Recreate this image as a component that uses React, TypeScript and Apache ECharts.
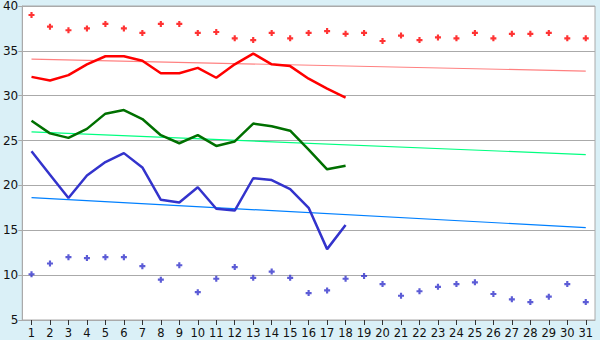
import React, { useEffect, useRef } from "react";
import * as echarts from "echarts";

const days = Array.from({ length: 31 }, (_, i) => String(i + 1));

const maxRecord = [39.0, 37.7, 37.3, 37.5, 38.0, 37.5, 37.0, 38.0, 38.0, 37.0, 37.1, 36.4, 36.2, 37.0, 36.4, 37.0, 37.2, 36.9, 37.0, 36.1, 36.7, 36.2, 36.5, 36.4, 37.0, 36.4, 36.9, 36.9, 37.0, 36.4, 36.4];
const minRecord = [10.1, 11.3, 12.0, 11.9, 12.0, 12.0, 11.0, 9.5, 11.1, 8.1, 9.6, 10.9, 9.7, 10.4, 9.7, 8.0, 8.3, 9.6, 9.9, 9.0, 7.7, 8.2, 8.7, 9.0, 9.2, 7.9, 7.3, 7.0, 7.6, 9.0, 7.0];
const maxTemp = [32.1, 31.7, 32.3, 33.5, 34.4, 34.4, 33.9, 32.5, 32.5, 33.1, 32.0, 33.5, 34.7, 33.5, 33.3, 31.9, 30.8, 29.8];
const meanTemp = [27.2, 25.8, 25.3, 26.3, 28.0, 28.4, 27.4, 25.6, 24.7, 25.6, 24.4, 24.9, 26.9, 26.6, 26.1, 24.0, 21.8, 22.2];
const minTemp = [23.8, 21.2, 18.6, 21.1, 22.6, 23.6, 22.0, 18.4, 18.1, 19.8, 17.4, 17.2, 20.8, 20.6, 19.6, 17.5, 12.9, 15.6];
const maxTrendEnds = [34.07, 32.74];
const meanTrendEnds = [25.96, 23.44];
const minTrendEnds = [18.63, 15.3];
const yTicks = { min: 5, max: 40, interval: 5 };

function trend(ends: number[]) {
  return days.map((_, i) => (i === 0 ? ends[0] : i === days.length - 1 ? ends[1] : null));
}

const plus = "path://M1.6,0H3.4V1.6H5V3.4H3.4V5H1.6V3.4H0V1.6H1.6Z";

export default function App() {
  const ref = useRef<HTMLDivElement>(null);
  useEffect(() => {
    if (!ref.current) return;
    const chart = echarts.init(ref.current, undefined, { renderer: "svg" });
    const font = "DejaVu Sans";
    chart.setOption({
      animation: false,
      backgroundColor: "#DAF0F7",
      grid: {
        left: 20,
        right: 5,
        top: 5,
        bottom: 20,
        show: true,
        backgroundColor: "#FFFFFF",
        borderColor: "#AAAAAA",
        borderWidth: 1,
      },
      xAxis: {
        type: "category",
        data: days,
        boundaryGap: true,
        axisLine: { show: true, lineStyle: { color: "#AAAAAA" } },
        axisTick: { show: true, alignWithLabel: true, length: 5, lineStyle: { color: "#333333" } },
        axisLabel: { color: "#111111", fontFamily: font, fontSize: 11.5, margin: 7, interval: 0 },
        splitLine: { show: false },
      },
      yAxis: {
        type: "value",
        min: yTicks.min,
        max: yTicks.max,
        interval: yTicks.interval,
        axisLine: { show: true, lineStyle: { color: "#AAAAAA" } },
        axisTick: { show: true, length: 4, lineStyle: { color: "#AAAAAA" } },
        axisLabel: { color: "#111111", fontFamily: font, fontSize: 12, margin: 4 },
        splitLine: { show: true, lineStyle: { color: "#AAAAAA", width: 1 } },
      },
      series: [
        { type: "line", data: trend(maxTrendEnds), connectNulls: true, symbol: "none", lineStyle: { color: "#FF8080", width: 1.2 }, z: 2 },
        { type: "line", data: trend(meanTrendEnds), connectNulls: true, symbol: "none", lineStyle: { color: "#00FF80", width: 1.2 }, z: 2 },
        { type: "line", data: trend(minTrendEnds), connectNulls: true, symbol: "none", lineStyle: { color: "#0080FF", width: 1.2 }, z: 2 },
        { type: "line", data: maxTemp, symbol: "none", lineStyle: { color: "#FF0000", width: 2.5 }, z: 3 },
        { type: "line", data: meanTemp, symbol: "none", lineStyle: { color: "#007000", width: 2.5 }, z: 3 },
        { type: "line", data: minTemp, symbol: "none", lineStyle: { color: "#3333CC", width: 2.5 }, z: 3 },
        { type: "scatter", data: maxRecord, symbol: plus, symbolSize: 6, itemStyle: { color: "#FF0000" }, z: 4 },
        { type: "scatter", data: minRecord, symbol: plus, symbolSize: 6, itemStyle: { color: "#3333CC" }, z: 4 },
      ],
    });
    return () => chart.dispose();
  }, []);
  return <div ref={ref} style={{ position: "fixed", left: 0, top: 0, width: 600, height: 340 }} />;
}
